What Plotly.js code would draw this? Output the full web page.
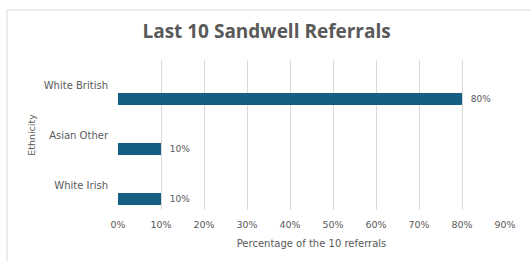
<!DOCTYPE html>
<html>
<head>
<meta charset="utf-8">
<script src="https://cdn.plot.ly/plotly-3.0.1.min.js"></script>
<style>
html,body{margin:0;padding:0;background:#fff;}
#chart{width:530px;height:261px;}
</style>
</head>
<body>
<div id="chart"></div>
<script>
const categories = ["White British", "Asian Other", "White Irish"];
const percentages = [0.8, 0.1, 0.1];
const xTickValues = [0, 0.1, 0.2, 0.3, 0.4, 0.5, 0.6, 0.7, 0.8, 0.9];
const xTickLabels = ["0%", "10%", "20%", "30%", "40%", "50%", "60%", "70%", "80%", "90%"];

const labelColor = "#595959";
const titleFont = "'Open Sans', 'Liberation Sans', sans-serif";
const fontFamily = "'DejaVu Sans', 'Open Sans', sans-serif";
const smallSize = 10;

const trace = {
  type: "bar",
  orientation: "h",
  y: categories,
  x: percentages,
  width: 0.24,
  offset: 0.16,
  marker: {color: "#156082"},
  text: percentages.map(v => "\u00a0\u00a0" + Math.round(v * 100) + "%"),
  textposition: "outside",
  textfont: {family: fontFamily, size: 9, color: labelColor},
  cliponaxis: false,
  hoverinfo: "skip"
};

const layout = {
  width: 530,
  height: 261,
  margin: {l: 118, r: 25, t: 60, b: 51},
  paper_bgcolor: "#ffffff",
  plot_bgcolor: "#ffffff",
  showlegend: false,
  font: {family: fontFamily, color: labelColor, size: smallSize},
  title: {
    text: "<b>Last 10 Sandwell Referrals</b>",
    font: {family: titleFont, size: 19, color: labelColor},
    x: 0.503, xref: "container", xanchor: "center",
    y: 0.88, yref: "container", yanchor: "middle"
  },
  xaxis: {
    range: [0, 0.9],
    tickvals: xTickValues,
    ticktext: xTickLabels,
    showgrid: true,
    gridcolor: "#d9d9d9",
    gridwidth: 1,
    zeroline: false,
    showline: false,
    ticks: "",
    ticklabelstandoff: 7,
    tickfont: {family: fontFamily, size: 9.5, color: labelColor},
    title: {text: "Percentage of the 10 referrals", font: {family: fontFamily, size: smallSize, color: labelColor}, standoff: 11},
    fixedrange: true
  },
  yaxis: {
    type: "category",
    categoryorder: "array",
    categoryarray: categories,
    range: [2.5, -0.5],
    showgrid: false,
    zeroline: false,
    showline: false,
    ticks: "",
    ticklabelstandoff: 9,
    tickfont: {family: fontFamily, size: smallSize, color: labelColor},
    title: {text: "Ethnicity", font: {family: fontFamily, size: 9.5, color: labelColor}, standoff: 6},
    fixedrange: true
  },
  shapes: [{
    type: "rect", xref: "paper", yref: "paper",
    x0: (7 - 118) / 387, x1: (540 - 118) / 387,
    y0: (210 - 270) / 150, y1: 1 + (60 - 10) / 150,
    line: {color: "#d9d9d9", width: 1},
    fillcolor: "rgba(0,0,0,0)",
    layer: "below"
  }]
};

Plotly.newPlot("chart", [trace], layout, {displayModeBar: false, staticPlot: true});
</script>
</body>
</html>
